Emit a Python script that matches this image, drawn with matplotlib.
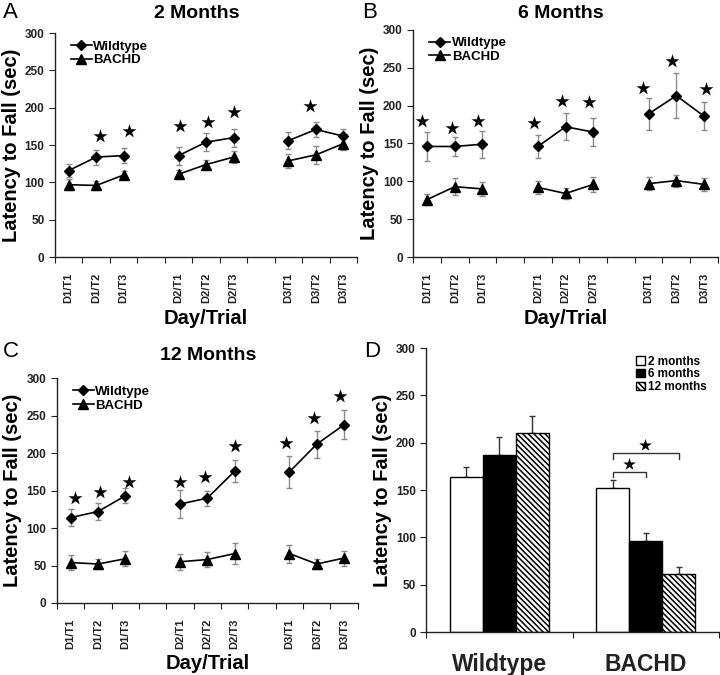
"""Rotarod latency-to-fall figure: three ages by day/trial plus age summary."""

import numpy as np
import matplotlib
matplotlib.use("Agg")
import matplotlib.pyplot as plt

plt.rcParams["font.family"] = ["Liberation Sans", "DejaVu Sans"]
plt.rcParams["hatch.linewidth"] = 1.1

trial_labels = ["D1/T1", "D1/T2", "D1/T3", "D2/T1", "D2/T2", "D2/T3",
                "D3/T1", "D3/T2", "D3/T3"]

# 2 months
wt_2m = [116, 134, 136, 136, 154, 160, 156, 171, 162]
wt_2m_err = [9, 10, 10, 12, 12, 12, 11, 10, 10]
hd_2m = [97, 96, 110, 111, 124, 134, 129, 137, 152]
hd_2m_err = [7, 6, 6, 6, 6, 8, 9, 12, 8]
sig_2m_trials = [1, 2, 3, 4, 5, 7]
sig_2m_y = [162, 169, 175, 181, 195, 202]
sig_2m_dx = [0.15, 0.18, 0.06, 0.06, 0.0, -0.2]

# 6 months
wt_6m = [146, 146, 149, 146, 172, 165, 189, 213, 186]
wt_6m_err = [19, 13, 18, 15, 18, 18, 21, 30, 18]
hd_6m = [76, 93, 90, 92, 84, 96, 97, 101, 96]
hd_6m_err = [7, 11, 9, 9, 7, 10, 9, 8, 9]
sig_6m_trials = [0, 1, 2, 3, 4, 5, 6, 7, 8]
sig_6m_y = [179, 171, 179, 177, 206, 205, 223, 259, 222]
sig_6m_dx = [-0.18, -0.11, -0.16, -0.15, -0.13, -0.15, -0.2, -0.17, 0.08]

# 12 months
wt_12m = [114, 122, 143, 132, 140, 176, 175, 212, 238]
wt_12m_err = [11, 11, 10, 19, 10, 15, 21, 18, 19]
hd_12m = [54, 52, 59, 55, 58, 66, 66, 52, 60]
hd_12m_err = [10, 7, 10, 11, 10, 14, 12, 7, 10]
sig_12m_trials = [0, 1, 2, 3, 4, 5, 6, 7, 8]
sig_12m_y = [140, 148, 162, 162, 168, 209, 213, 247, 276]
sig_12m_dx = [0.17, 0.09, 0.12, 0.0, -0.1, 0.0, -0.11, -0.12, -0.15]

# summary (D)
groups = ["Wildtype", "BACHD"]
ages = ["2 months", "6 months", "12 months"]
summary = {"2 months": [164, 152], "6 months": [187, 96], "12 months": [210, 61]}
summary_err = {"2 months": [10, 9], "6 months": [19, 9], "12 months": [18, 8]}

INK = "#222222"
ERR = "#8a8a8a"


def trial_panel(ax, wt, wt_err, hd, hd_err, sig_t, sig_y, sig_dx):
    # one empty slot between days
    pos = np.array([i + i // 3 for i in range(len(trial_labels))])
    for day in range(3):
        sl = slice(day * 3, day * 3 + 3)
        ax.errorbar(pos[sl], wt[sl], yerr=wt_err[sl], fmt="none", ecolor=ERR,
                    elinewidth=1, capsize=2, capthick=1, zorder=2)
        ax.errorbar(pos[sl], hd[sl], yerr=hd_err[sl], fmt="none", ecolor=ERR,
                    elinewidth=1, capsize=2, capthick=1, zorder=2)
        ax.plot(pos[sl], wt[sl], color="black", lw=1.2, marker="D", ms=5,
                label="Wildtype" if day == 0 else None, zorder=3)
        ax.plot(pos[sl], hd[sl], color="black", lw=1.2, marker="^", ms=7,
                label="BACHD" if day == 0 else None, zorder=3)
    sx = pos[np.array(sig_t)] + np.array(sig_dx)
    ax.scatter(sx, sig_y, marker="*", s=110, color="black", lw=0, zorder=4)

    ax.set_xlim(-0.5, pos[-1] + 0.5)
    ax.set_ylim(0, 300)
    ax.set_yticks(range(0, 301, 50))
    ax.set_xticks(np.arange(-0.5, pos[-1] + 1, 1))
    ax.set_xticklabels([])
    ax.set_xticks(pos, minor=True)
    ax.set_xticklabels(trial_labels, minor=True, rotation=90,
                       fontsize=8, fontweight="bold", color=INK)
    ax.tick_params(axis="x", which="major", direction="out", length=4,
                   color=INK)
    ax.tick_params(axis="x", which="minor", length=0, pad=11)
    ax.set_xlabel("Day/Trial", fontsize=14.5, fontweight="bold", labelpad=4)
    style_axis(ax)
    ax.legend(loc="upper left", bbox_to_anchor=(0.035, 0.99), frameon=False,
              prop={"size": 9.5, "weight": "bold"}, handlelength=1.6,
              handletextpad=0.1, labelspacing=0.1, borderaxespad=0)


def style_axis(ax):
    for side in ("top", "right"):
        ax.spines[side].set_visible(False)
    for side in ("left", "bottom"):
        ax.spines[side].set_color(INK)
        ax.spines[side].set_linewidth(1.0)
    ax.tick_params(axis="y", direction="out", length=4, color=INK,
                   labelsize=8.5, labelcolor=INK)
    for lab in ax.get_yticklabels():
        lab.set_fontweight("bold")
    ax.set_ylabel("Latency to Fall (sec)", fontsize=14.5, fontweight="bold",
                  labelpad=3)


fig = plt.figure(figsize=(7.2, 6.75), dpi=100)

ax_a = fig.add_axes([0.0764, 0.619, 0.4196, 0.332])
ax_b = fig.add_axes([0.574, 0.619, 0.423, 0.337])
ax_c = fig.add_axes([0.079, 0.1067, 0.418, 0.333])
ax_d = fig.add_axes([0.592, 0.0637, 0.4066, 0.4207])

trial_panel(ax_a, wt_2m, wt_2m_err, hd_2m, hd_2m_err,
            sig_2m_trials, sig_2m_y, sig_2m_dx)
trial_panel(ax_b, wt_6m, wt_6m_err, hd_6m, hd_6m_err,
            sig_6m_trials, sig_6m_y, sig_6m_dx)
trial_panel(ax_c, wt_12m, wt_12m_err, hd_12m, hd_12m_err,
            sig_12m_trials, sig_12m_y, sig_12m_dx)

# panel D: group means by age
x = np.arange(len(groups))
width = 0.225
faces = {"2 months": "white", "6 months": "black", "12 months": "white"}
hatches = {"2 months": None, "6 months": None, "12 months": "\\" * 6}
for i, age in enumerate(ages):
    xs = x + (i - 1) * width
    ax_d.bar(xs, summary[age], width, color=faces[age], edgecolor="black",
             hatch=hatches[age], lw=1.0, label=age, zorder=2)
    ax_d.errorbar(xs, summary[age], yerr=[np.zeros(2), summary_err[age]],
                  fmt="none", ecolor="#333333", elinewidth=1, capsize=2.5,
                  capthick=1, zorder=1)

# significance brackets on BACHD group
b_left, b_mid, b_right = x[1] - width, x[1], x[1] + width
for x0, x1, top, leg, star in [(b_left, b_mid, 169, 164, 177.5),
                               (b_left, b_right, 189.5, 183, 197.5)]:
    ax_d.plot([x0, x0, x1, x1], [leg, top, top, leg], color="#333333", lw=1)
    ax_d.scatter([(x0 + x1) / 2 - 0.005], [star], marker="*", s=90,
                 color="black", lw=0, zorder=4)

ax_d.set_xlim(-0.5, 1.5)
ax_d.set_ylim(0, 300)
ax_d.set_yticks(range(0, 301, 50))
ax_d.set_xticks([-0.5, 0.5, 1.5])
ax_d.set_xticklabels([])
ax_d.set_xticks(x, minor=True)
ax_d.set_xticklabels(groups, minor=True, fontsize=16.5, fontweight="bold",
                     color=INK)
ax_d.tick_params(axis="x", which="major", direction="out", length=4,
                 color=INK)
ax_d.tick_params(axis="x", which="minor", length=0, pad=15)
style_axis(ax_d)
ax_d.legend(loc="upper right", bbox_to_anchor=(0.975, 0.99), frameon=False,
            prop={"size": 8.5, "weight": "bold"}, handlelength=0.7,
            handleheight=0.7, handletextpad=0.3, labelspacing=0.05,
            borderaxespad=0)

# titles and panel letters
for xt, yt, txt in [(197, 14, "2 Months"), (561, 14, "6 Months"),
                    (208, 355, "12 Months")]:
    fig.text(xt / 720, 1 - yt / 675, txt, fontsize=14, fontweight="bold",
             ha="center", va="center")
for xt, yt, txt in [(3, 12, "A"), (362, 12, "B"), (3, 352, "C"),
                    (364, 352, "D")]:
    fig.text(xt / 720, 1 - yt / 675, txt, fontsize=16, ha="left",
             va="center")

fig.savefig("out.png", dpi=100)
